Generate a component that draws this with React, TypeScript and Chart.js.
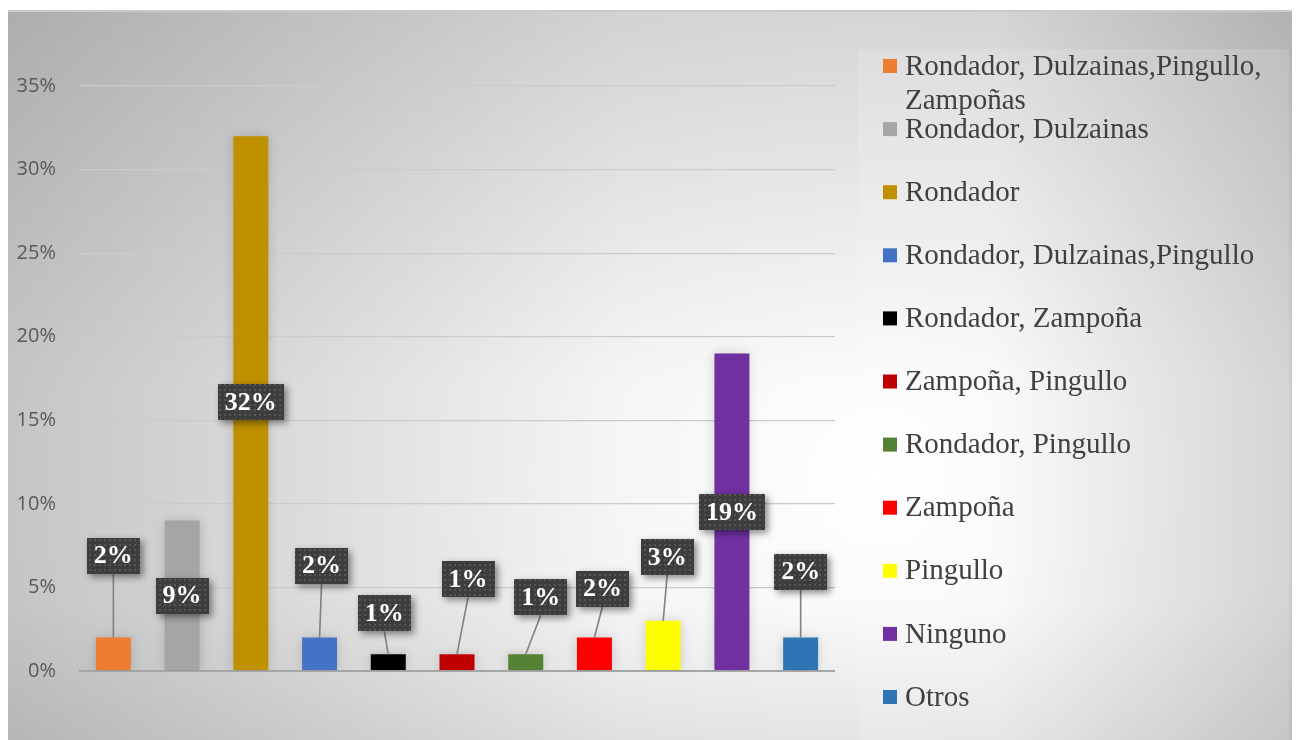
import React, { useEffect, useRef } from "react";
import { Chart, registerables } from "chart.js";

Chart.register(...registerables);

const categories = [
  "Rondador, Dulzainas,Pingullo, Zampoñas",
  "Rondador, Dulzainas",
  "Rondador",
  "Rondador, Dulzainas,Pingullo",
  "Rondador, Zampoña",
  "Zampoña, Pingullo",
  "Rondador, Pingullo",
  "Zampoña",
  "Pingullo",
  "Ninguno",
  "Otros",
];
const values = [2, 9, 32, 2, 1, 1, 1, 2, 3, 19, 2];
const colors = [
  "#ED7D31",
  "#A5A5A5",
  "#BF9000",
  "#4472C4",
  "#000000",
  "#C00000",
  "#548235",
  "#FF0000",
  "#FFFF00",
  "#7030A0",
  "#2E75B6",
];
const yTicks = [0, 5, 10, 15, 20, 25, 30, 35];

// label box centre offsets relative to the top-centre of each bar (layout only)
const labelOffsets: [number, number][] = [
  [0, -82],
  [0, 75],
  [0, 266],
  [2, -72],
  [-4, -41],
  [11, -75],
  [15, -57],
  [8, -49],
  [4, -64],
  [0, 159],
  [0, -66],
];

const W = 1284;
const H = 732;

function makeDotPattern(ctx: CanvasRenderingContext2D) {
  const c = document.createElement("canvas");
  c.width = 5;
  c.height = 5;
  const p = c.getContext("2d")!;
  p.fillStyle = "#3d3d3d";
  p.fillRect(0, 0, 5, 5);
  p.fillStyle = "#565656";
  p.fillRect(1, 1, 2, 2);
  return ctx.createPattern(c, "repeat");
}

const backgroundPlugin = {
  id: "bgPlugin",
  beforeDraw(chart: any) {
    const ctx: CanvasRenderingContext2D = chart.ctx;
    const top = 2;
    ctx.save();
    ctx.fillStyle = "#ffffff";
    ctx.fillRect(0, 0, W, top);
    const rg = ctx.createRadialGradient(870, 470, 0, 870, 470, 1000);
    rg.addColorStop(0, "#ffffff");
    rg.addColorStop(0.3, "#f4f4f4");
    rg.addColorStop(1, "#d6d6d6");
    ctx.fillStyle = rg;
    ctx.fillRect(0, top, W, H - top);
    const edge = (x0: number, y0: number, x1: number, y1: number, a: number) => {
      const g = ctx.createLinearGradient(x0, y0, x1, y1);
      g.addColorStop(0, `rgba(0,0,0,${a})`);
      g.addColorStop(1, "rgba(0,0,0,0)");
      ctx.fillStyle = g;
      ctx.fillRect(0, top, W, H - top);
    };
    edge(0, 0, 620, 0, 0.1);
    edge(0, top, 0, 380, 0.1);
    edge(W, 0, W - 300, 0, 0.14);
    edge(0, H, 0, H - 140, 0.07);
    // top border
    ctx.fillStyle = "#c9c9c9";
    ctx.fillRect(0, top, W, 2);
    // legend panel
    ctx.fillStyle = "rgba(255,255,255,0.14)";
    ctx.fillRect(850, 41, 431, H - 41);
    ctx.restore();
  },
  beforeDatasetsDraw(chart: any) {
    const ctx = chart.ctx;
    ctx.save();
    ctx.shadowColor = "rgba(0,0,0,0.16)";
    ctx.shadowBlur = 10;
  },
  afterDatasetsDraw(chart: any) {
    chart.ctx.restore();
  },
};

const labelPlugin = {
  id: "labelPlugin",
  afterDraw(chart: any) {
    const ctx: CanvasRenderingContext2D = chart.ctx;
    const meta = chart.getDatasetMeta(0);
    const pattern = makeDotPattern(ctx);
    ctx.save();
    ctx.font = "bold 26px 'Liberation Serif', 'Times New Roman', serif";
    const boxes = meta.data.map((bar: any, i: number) => {
      const txt = values[i] + "%";
      const tw = ctx.measureText(txt).width;
      const bw = Math.round(tw + 14);
      const bh = 36;
      const cx = bar.x + labelOffsets[i][0];
      const cy = bar.y + labelOffsets[i][1];
      return { txt, bw, bh, cx, cy, bar, i };
    });
    // leader lines
    ctx.strokeStyle = "#808080";
    ctx.lineWidth = 1.6;
    boxes.forEach((b: any) => {
      if (labelOffsets[b.i][1] < 0) {
        ctx.beginPath();
        ctx.moveTo(b.cx, b.cy + b.bh / 2);
        ctx.lineTo(b.bar.x, b.bar.y);
        ctx.stroke();
      }
    });
    boxes.forEach((b: any) => {
      const x = Math.round(b.cx - b.bw / 2);
      const y = Math.round(b.cy - b.bh / 2);
      ctx.save();
      ctx.shadowColor = "rgba(0,0,0,0.45)";
      ctx.shadowBlur = 7;
      ctx.shadowOffsetX = 3;
      ctx.shadowOffsetY = 3;
      ctx.fillStyle = "#3d3d3d";
      ctx.fillRect(x, y, b.bw, b.bh);
      ctx.restore();
      ctx.fillStyle = pattern || "#3d3d3d";
      ctx.fillRect(x, y, b.bw, b.bh);
      ctx.fillStyle = "#ffffff";
      ctx.textAlign = "center";
      ctx.textBaseline = "middle";
      ctx.fillText(b.txt, b.cx, b.cy + 1);
    });
    ctx.restore();
  },
};

function wrap(ctx: CanvasRenderingContext2D, text: string, maxW: number) {
  const words = text.split(" ");
  const lines: string[] = [];
  let cur = "";
  words.forEach((w) => {
    const t = cur ? cur + " " + w : w;
    if (ctx.measureText(t).width > maxW && cur) {
      lines.push(cur);
      cur = w;
    } else cur = t;
  });
  if (cur) lines.push(cur);
  return lines;
}

const legendPlugin = {
  id: "customLegend",
  afterDraw(chart: any) {
    const ctx: CanvasRenderingContext2D = chart.ctx;
    ctx.save();
    ctx.font = "29px 'Liberation Serif', 'Times New Roman', serif";
    ctx.textBaseline = "middle";
    ctx.textAlign = "left";
    const x0 = 875;
    const y0 = 58;
    const step = 63.1;
    categories.forEach((c, i) => {
      const y = y0 + step * i;
      ctx.fillStyle = colors[i];
      ctx.fillRect(x0, y - 7, 14, 14);
      ctx.fillStyle = "#404040";
      const lines = wrap(ctx, c, 375);
      lines.forEach((ln, k) => ctx.fillText(ln, x0 + 22, y + 1 + k * 34));
    });
    ctx.restore();
  },
};

export default function App() {
  const ref = useRef<HTMLCanvasElement | null>(null);
  useEffect(() => {
    if (!ref.current) return;
    const chart = new Chart(ref.current, {
      type: "bar",
      data: {
        labels: categories,
        datasets: [
          {
            label: "Instrumentos",
            data: values,
            backgroundColor: colors,
            borderWidth: 0,
            barPercentage: 0.509,
            categoryPercentage: 1,
          },
        ],
      },
      options: {
        responsive: false,
        animation: false,
        devicePixelRatio: 1,
        layout: { padding: { left: 0, top: 78, right: W - 827, bottom: H - 663 } },
        plugins: {
          legend: { display: false },
          tooltip: { enabled: false },
        },
        scales: {
          x: { display: false },
          y: {
            min: 0,
            max: 35,
            afterFit: (s: any) => {
              s.width = 71;
            },
            afterBuildTicks: (s: any) => {
              s.ticks = yTicks.map((v) => ({ value: v }));
            },
            border: { display: false },
            grid: {
              drawTicks: false,
              color: (c: any) => (c.tick && c.tick.value === 0 ? "#a6a6a6" : "#cbcbcb"),
              lineWidth: (c: any) => (c.tick && c.tick.value === 0 ? 2 : 1.2),
            },
            ticks: {
              padding: 23,
              color: "#595959",
              font: { family: "'Open Sans', 'Noto Sans', sans-serif", size: 20 },
              callback: (v: any) => v + "%",
            },
          },
        },
      },
      plugins: [backgroundPlugin, labelPlugin, legendPlugin],
    });
    return () => chart.destroy();
  }, []);
  return (
    <div style={{ width: W, height: H }}>
      <canvas ref={ref} width={W} height={H} style={{ display: "block", width: W, height: H }} />
    </div>
  );
}
